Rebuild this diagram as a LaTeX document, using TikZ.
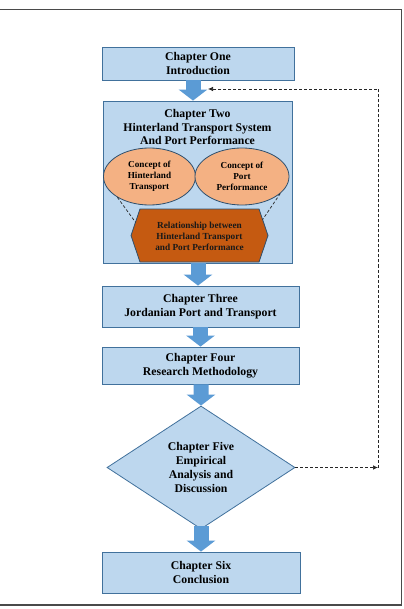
\documentclass[tikz,border=0pt]{standalone}
\usepackage{fontspec}
\setmainfont{Liberation Serif}
\usetikzlibrary{shapes.geometric,arrows.meta,calc}
\definecolor{boxfill}{HTML}{BDD7EE}
\definecolor{boxline}{HTML}{41719C}
\definecolor{flowblue}{HTML}{5B9BD5}
\definecolor{peach}{HTML}{F4B183}
\definecolor{rust}{HTML}{C55A11}
\definecolor{framegray}{HTML}{4A4A4A}

\begin{document}
\begin{tikzpicture}[x=1bp,y=-1bp,
  chapbox/.style={draw=boxline, fill=boxfill, line width=0.8bp,
    font=\fontsize{11.8}{14}\selectfont\bfseries, align=center, inner sep=0pt},
  chaptitle/.style={font=\fontsize{11.8}{14}\selectfont\bfseries, align=center, inner sep=0pt},
  concept/.style={ellipse, draw=boxline!70!black, fill=peach, line width=0.8bp,
    minimum height=57bp, inner sep=0pt, align=center,
    font=\fontsize{9.2}{11}\selectfont\bfseries},
  flow/.style={draw=flowblue, line width=15bp, -{Triangle[length=11bp,width=28bp]}},
  link/.style={dash pattern=on 3bp off 2bp, line width=0.7bp, black!85},
  loopline/.style={link, -{Latex[length=5bp,width=4.5bp]}},
]
\useasboundingbox (0,0) rectangle (403,609);
\fill[white] (0,0) rectangle (403,609);

% page frame
\draw[framegray, line width=1.6bp] (0,9.5) -- (401.5,9.5) -- (401.5,605) -- (0,605);

% chapter one
\node[chapbox, minimum width=192bp, minimum height=33bp] (ch1) at (198,63.5)
  {Chapter One\\Introduction};

% chapter two with its inner concepts
\node[chapbox, minimum width=189bp, minimum height=162bp] (ch2) at (197.5,182) {};
\node[chaptitle] (ch2title) at (197.5,127)
  {Chapter Two\\Hinterland Transport System\\And Port Performance};
\node[concept, minimum width=92bp] (hin) at (149.5,176.5) {Concept of\\Hinterland\\Transport};
\node[concept, minimum width=94bp] (prt) at (242,176.5) {Concept of\\Port\\Performance};

\coordinate (hexTL) at (140,209);
\coordinate (hexTR) at (259,209);
\coordinate (hexR)  at (268,235.5);
\coordinate (hexBR) at (259,262);
\coordinate (hexBL) at (140,262);
\coordinate (hexL)  at (131,235.5);
\draw[draw=boxline!70!black, fill=rust, line width=0.8bp]
  (hexTL) -- (hexTR) -- (hexR) -- (hexBR) -- (hexBL) -- (hexL) -- cycle;
\node[font=\fontsize{9.3}{11}\selectfont\bfseries, align=center, text=black!90, inner sep=0pt]
  (rel) at (199.5,236) {Relationship between\\Hinterland Transport\\and Port Performance};

\draw[link] (hin.213) -- ($(hexTL)!0.5!(hexL)$);
\draw[link] (prt.336) -- ($(hexTR)!0.4!(hexR)$);

% remaining chapters
\node[chapbox, minimum width=197bp, minimum height=41bp] (ch3) at (200.5,306.5)
  {Chapter Three\\Jordanian Port and Transport};
\node[chapbox, minimum width=197bp, minimum height=37bp] (ch4) at (200.5,365.5)
  {Chapter Four\\Research Methodology};
\node[chapbox, diamond, minimum width=188bp, minimum height=123bp] (ch5) at (201,467.5)
  {Chapter Five\\Empirical\\Analysis and\\Discussion};
\node[chapbox, minimum width=198bp, minimum height=41bp] (ch6) at (201,572.5)
  {Chapter Six\\Conclusion};

% block arrows between chapters
\draw[flow] ([xshift=-5bp]ch1.south) -- ([xshift=-4.5bp]ch2.north);
\draw[flow] ([xshift=0.5bp]ch2.south) -- ([xshift=0.5bp]ch2.south |- ch3.north);
\draw[flow] (ch3.south) -- (ch4.north);
\draw[flow] ([xshift=0.5bp]ch4.south) -- (ch5.north);
\draw[flow] ([yshift=3bp]ch5.south) -- (ch6.north);

% feedback loop from chapter five back to chapter two
\coordinate (loopcorner) at (378,468);
\coordinate (loopin) at (208,89);
\draw[loopline] (ch5.east) -- (ch5.east -| loopcorner);
\draw[loopline] (ch5.east -| loopcorner) |- (loopin);

\end{tikzpicture}
\end{document}
